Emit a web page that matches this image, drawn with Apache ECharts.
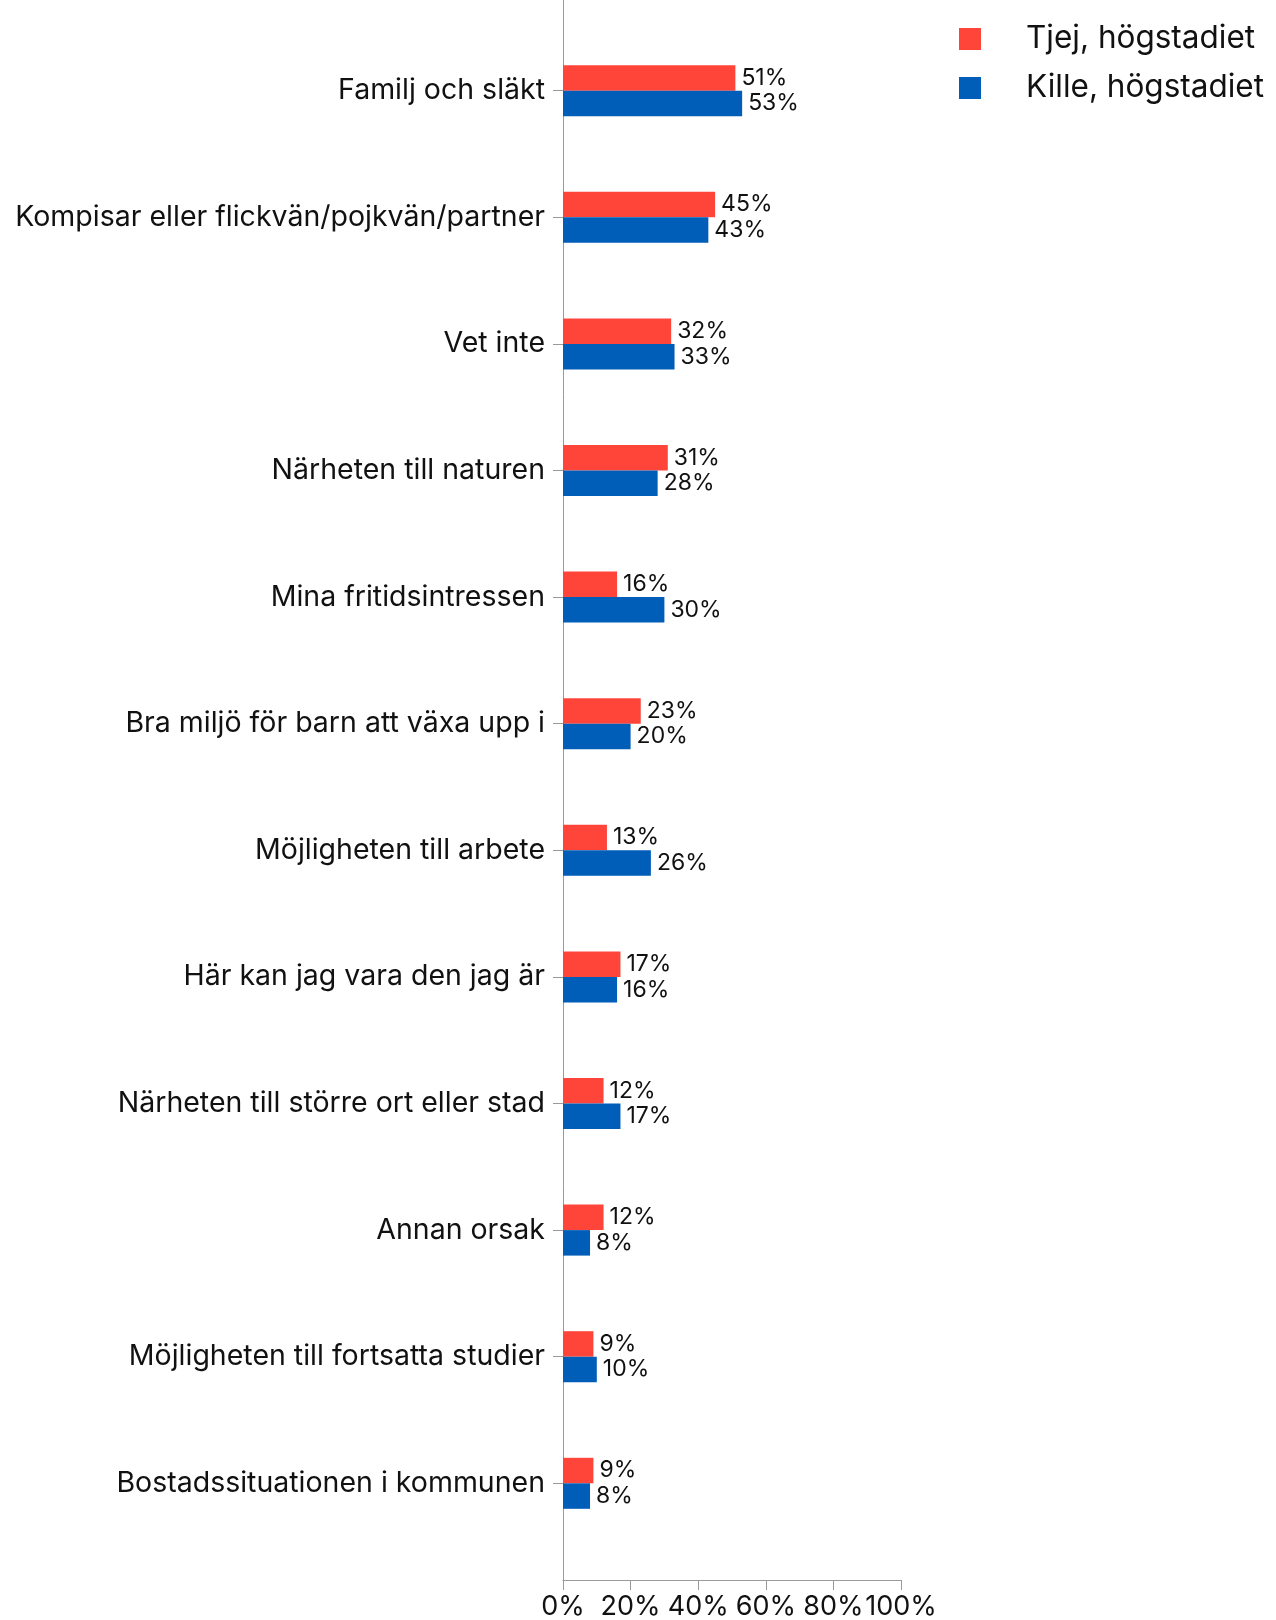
<!DOCTYPE html>
<html>
<head>
<meta charset="utf-8">
<script src="https://cdn.jsdelivr.net/npm/echarts@6/dist/echarts.min.js"></script>
<style>
  html, body { margin: 0; padding: 0; background: #fff; }
  #chart { width: 1276px; height: 1620px; }
</style>
</head>
<body>
<div id="chart"></div>
<script>
var categories = [
    'Familj och släkt',
    'Kompisar eller flickvän/pojkvän/partner',
    'Vet inte',
    'Närheten till naturen',
    'Mina fritidsintressen',
    'Bra miljö för barn att växa upp i',
    'Möjligheten till arbete',
    'Här kan jag vara den jag är',
    'Närheten till större ort eller stad',
    'Annan orsak',
    'Möjligheten till fortsatta studier',
    'Bostadssituationen i kommunen'
];
var tjej = [51, 45, 32, 31, 16, 23, 13, 17, 12, 12, 9, 9];
var kille = [53, 43, 33, 28, 30, 20, 26, 16, 17, 8, 10, 8];
var seriesNames = ['Tjej, högstadiet', 'Kille, högstadiet'];
var xTicks = [0, 20, 40, 60, 80, 100];

var FONT = 'Inter';
var dom = document.getElementById('chart');
var myChart = echarts.init(dom);

var barLabel = {
    show: true,
    position: 'right',
    distance: 6,
    formatter: '{c}%',
    color: '#111',
    fontFamily: FONT,
    fontSize: 23
};

option = {
    backgroundColor: '#fff',
    animation: false,
    textStyle: { fontFamily: FONT },
    legend: {
        orient: 'vertical',
        left: 954,
        top: 16,
        itemWidth: 22,
        itemHeight: 22,
        itemGap: 13,
        icon: 'rect',
        data: seriesNames,
        textStyle: {
            color: '#111',
            fontFamily: FONT,
            fontSize: 31.5,
            lineHeight: 36,
            padding: [0, 0, 0, 40]
        }
    },
    grid: [
        // bars
        { left: 563, right: 375, top: 27.4, bottom: 73.4 },
        // axis frame
        { left: 563, right: 375, top: -10, bottom: 38.5 }
    ],
    xAxis: [{
        gridIndex: 0,
        type: 'value',
        min: 0,
        max: 100,
        show: false
    }, {
        gridIndex: 1,
        type: 'value',
        min: xTicks[0],
        max: xTicks[xTicks.length - 1],
        interval: 20,
        splitLine: { show: false },
        axisLine: { show: true, lineStyle: { color: '#9a9a9a', width: 1 } },
        axisTick: { show: true, length: 10, lineStyle: { color: '#9a9a9a' } },
        axisLabel: {
            margin: 13,
            formatter: '{value}%',
            color: '#111',
            fontFamily: FONT,
            fontSize: 27
        }
    }],
    yAxis: [{
        gridIndex: 0,
        type: 'category',
        data: categories,
        inverse: true,
        axisLine: { show: false },
        axisTick: { show: true, alignWithLabel: true, length: 10, lineStyle: { color: '#9a9a9a' } },
        axisLabel: {
            margin: 18,
            color: '#111',
            fontFamily: FONT,
            fontSize: 28.5,
            padding: [4, 0, 0, 0]
        }
    }, {
        gridIndex: 1,
        type: 'value',
        axisLine: { show: true, lineStyle: { color: '#9a9a9a', width: 1 } },
        axisTick: { show: false },
        axisLabel: { show: false },
        splitLine: { show: false }
    }],
    series: [{
        name: seriesNames[0],
        type: 'bar',
        xAxisIndex: 0,
        yAxisIndex: 0,
        data: tjej,
        barWidth: 25.5,
        barGap: '0%',
        itemStyle: { color: '#ff443a' },
        label: barLabel
    }, {
        name: seriesNames[1],
        type: 'bar',
        xAxisIndex: 0,
        yAxisIndex: 0,
        data: kille,
        barWidth: 25.5,
        barGap: '0%',
        itemStyle: { color: '#005db8' },
        label: barLabel
    }]
};

if (option && typeof option === 'object') {
    myChart.setOption(option, true);
}
</script>
</body>
</html>
